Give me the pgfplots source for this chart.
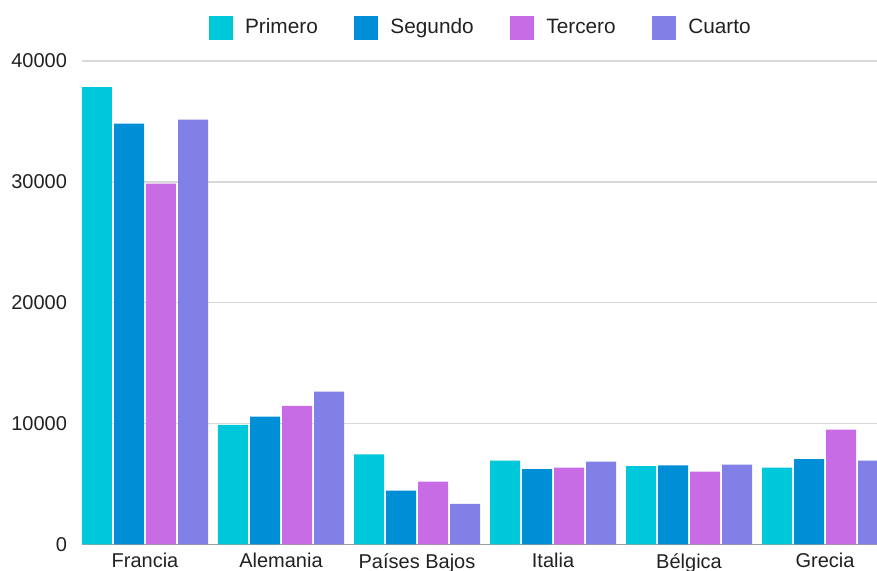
\documentclass[border=0pt]{standalone}
\usepackage{fontspec}
\setmainfont{Liberation Sans}
\usepackage{pgfplots}
\pgfplotsset{compat=1.18}

\definecolor{primero}{HTML}{00C8DB}
\definecolor{segundo}{HTML}{008ED6}
\definecolor{tercero}{HTML}{C86CE5}
\definecolor{cuarto}{HTML}{8080E6}
\definecolor{gridgray}{HTML}{D9D9D9}
\definecolor{basegray}{HTML}{A0A0A0}
\definecolor{labeltext}{HTML}{212121}

\begin{document}
\begin{tikzpicture}
\begin{axis}[
    scale only axis,
    width=397.5pt, height=241.65pt,
    ybar,
    bar width=0.2206,
    xmin=-0.4632, xmax=5.382,
    ymin=0, ymax=40000,
    xtick={0,...,5},
    xticklabels={Francia, Alemania, Países Bajos, Italia, Bélgica, Grecia},
    ytick={0,10000,20000,30000,40000},
    scaled y ticks=false,
    /pgf/number format/1000 sep={},
    /pgf/number format/assume math mode=true,
    major tick length=0pt,
    tick label style={font=\fontsize{10}{12}\selectfont, text=labeltext},
    yticklabel style={xshift=-4pt},
    xticklabel style={yshift=-1pt},
    axis x line*=bottom,
    axis y line*=left,
    x axis line style={basegray, line width=0.75pt, -},
    y axis line style={draw=none},
    ymajorgrids,
    grid style={gridgray, line width=0.75pt},
    legend columns=4,
    legend style={
        at={(0.503,1.069)}, anchor=center,
        draw=none, fill=none,
        font=\fontsize{10.4}{12}\selectfont,
        text=labeltext,
        /tikz/every odd column/.append style={column sep=4pt},
        /tikz/every even column/.append style={column sep=16.3pt},
    },
    legend image code/.code={\fill[#1] (0pt,-6pt) rectangle (12pt,6pt);},
]
% Primero
\addplot[fill=primero, draw=none, bar shift=-0.353] coordinates {
    (0,37830) (1,9880) (2,7450) (3,6920) (4,6460) (5,6340)
};
% Segundo
\addplot[fill=segundo, draw=none, bar shift=-0.1176] coordinates {
    (0,34820) (1,10560) (2,4440) (3,6230) (4,6540) (5,7040)
};
% Tercero
\addplot[fill=tercero, draw=none, bar shift=0.1176] coordinates {
    (0,29850) (1,11450) (2,5180) (3,6340) (4,6010) (5,9490)
};
% Cuarto
\addplot[fill=cuarto, draw=none, bar shift=0.353] coordinates {
    (0,35150) (1,12630) (2,3340) (3,6840) (4,6590) (5,6920)
};
\legend{Primero, Segundo, Tercero, Cuarto}
\coordinate (sw) at (rel axis cs:0,0);
\coordinate (ne) at (rel axis cs:1,1);
\end{axis}
\pgfresetboundingbox
\path[use as bounding box] ([xshift=-41pt,yshift=-13.35pt]sw) rectangle ([yshift=30.5pt]ne);
\end{tikzpicture}
\end{document}
